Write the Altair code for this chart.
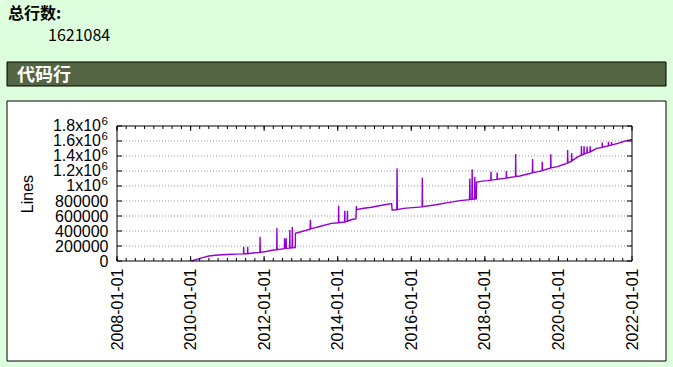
import altair as alt
import pandas as pd

# ---- data ----
dates = [
    "2010-01-10", "2010-03-01", "2010-05-01", "2010-07-01", "2010-10-01",
    "2011-01-01", "2011-04-01", "2011-06-10", "2011-06-12", "2011-06-14",
    "2011-07-20", "2011-07-22", "2011-07-24", "2011-10-01", "2011-11-20",
    "2011-11-22", "2011-11-24", "2012-02-01", "2012-04-01", "2012-05-05",
    "2012-05-07", "2012-05-09", "2012-07-20", "2012-07-22", "2012-07-24",
    "2012-08-05", "2012-08-07", "2012-08-09", "2012-09-10", "2012-09-12",
    "2012-09-14", "2012-10-05", "2012-10-07", "2012-10-09", "2012-11-05",
    "2012-11-07", "2013-01-01", "2013-04-01", "2013-04-05", "2013-04-08",
    "2013-08-01", "2013-11-01", "2014-01-08", "2014-01-10", "2014-01-12",
    "2014-03-10", "2014-03-12", "2014-03-14", "2014-04-05", "2014-04-07",
    "2014-04-09", "2014-05-15", "2014-07-01", "2014-07-05", "2014-07-08",
    "2014-09-01", "2014-12-01", "2015-03-01", "2015-06-20", "2015-06-25",
    "2015-08-10", "2015-08-13", "2015-08-16", "2015-10-15", "2016-01-15",
    "2016-04-18", "2016-04-20", "2016-04-22", "2016-09-01", "2017-01-01",
    "2017-05-01", "2017-08-01", "2017-08-05", "2017-08-08", "2017-08-25",
    "2017-08-28", "2017-08-31", "2017-09-20", "2017-09-23", "2017-09-26",
    "2017-10-08", "2017-10-10", "2017-12-01", "2018-02-01", "2018-03-01",
    "2018-03-03", "2018-03-05", "2018-05-01", "2018-05-03", "2018-05-05",
    "2018-08-01", "2018-08-03", "2018-08-05", "2018-11-01", "2018-11-03",
    "2018-11-05", "2018-12-15", "2019-02-01", "2019-04-18", "2019-04-20",
    "2019-04-22", "2019-06-15", "2019-07-23", "2019-07-25", "2019-07-27",
    "2019-10-16", "2019-10-18", "2019-10-20", "2019-12-20", "2020-03-01",
    "2020-03-31", "2020-04-02", "2020-04-04", "2020-05-10", "2020-05-12",
    "2020-05-14", "2020-07-15", "2020-08-15", "2020-08-17", "2020-08-19",
    "2020-09-10", "2020-09-12", "2020-09-14", "2020-10-10", "2020-10-12",
    "2020-10-14", "2020-11-10", "2020-11-12", "2020-11-14", "2021-01-15",
    "2021-03-10", "2021-03-12", "2021-03-14", "2021-05-10", "2021-05-12",
    "2021-05-14", "2021-06-10", "2021-06-12", "2021-06-14", "2021-08-15",
    "2021-10-01", "2022-01-01",
]
lines = [
    0, 22000, 45000, 66000, 80000,
    86000, 92000, 95000, 190000, 96000,
    97000, 190000, 98000, 110000, 114000,
    324000, 115000, 130000, 147000, 150000,
    440000, 151000, 165000, 302000, 166000,
    168000, 302000, 169000, 172000, 413000,
    173000, 175000, 453000, 176000, 178000,
    369000, 390000, 425000, 547000, 428000,
    470000, 502000, 510000, 737000, 512000,
    520000, 670000, 522000, 528000, 670000,
    530000, 550000, 565000, 733000, 685000,
    700000, 716000, 740000, 765000, 680000,
    683000, 1236000, 685000, 702000, 712000,
    722000, 1110000, 724000, 750000, 778000,
    805000, 818000, 1100000, 820000, 822000,
    1222000, 823000, 825000, 1124000, 826000,
    828000, 1050000, 1065000, 1072000, 1078000,
    1190000, 1079000, 1089000, 1180000, 1090000,
    1105000, 1200000, 1106000, 1125000, 1427000,
    1127000, 1133000, 1150000, 1175000, 1360000,
    1177000, 1191000, 1205000, 1324000, 1206000,
    1240000, 1422000, 1242000, 1258000, 1290000,
    1305000, 1480000, 1307000, 1330000, 1440000,
    1335000, 1391000, 1410000, 1533000, 1412000,
    1425000, 1530000, 1427000, 1440000, 1525000,
    1442000, 1455000, 1530000, 1457000, 1502000,
    1515000, 1580000, 1517000, 1535000, 1590000,
    1537000, 1545000, 1585000, 1547000, 1569000,
    1590000, 1621084,
]
y_ticks = [0, 200000, 400000, 600000, 800000, 1000000,
           1200000, 1400000, 1600000, 1800000]
pow_values = [1000000, 1200000, 1400000, 1600000, 1800000]
pow_mantissa = ["1x10", "1.2x10", "1.4x10", "1.6x10", "1.8x10"]
pow_exponent = ["6", "6", "6", "6", "6"]
major_years = [2008, 2010, 2012, 2014, 2016, 2018, 2020, 2022]
minor_dates = [f"{y}-{m:02d}-01" for y in range(2008, 2022) for m in (1, 4, 7, 10)]
major_dates = [f"{y}-01-01" for y in major_years]

total_label = "总行数:"
total_value = "1621084"
section_title = "代码行"
y_title = "Lines"

df = pd.DataFrame({"date": dates, "lines": lines})
pow_df = pd.DataFrame({"v": pow_values, "m": pow_mantissa, "e": pow_exponent})
W, H = 515, 135

xscale = alt.Scale(
    type="utc",
    domain=[alt.DateTime(year=2008, month=1, date=1, utc=True),
            alt.DateTime(year=2022, month=1, date=1, utc=True)],
)
yscale = alt.Scale(domain=[0, 1800000], nice=False)

one = pd.DataFrame({"k": [0]})

box = alt.Chart(one).mark_rect(fill="white", stroke="black", strokeWidth=1).encode(
    x=alt.value(-110), x2=alt.value(549), y=alt.value(-25), y2=alt.value(235))
bar = alt.Chart(one).mark_rect(fill="#556644", stroke="black", strokeWidth=1).encode(
    x=alt.value(-110), x2=alt.value(549), y=alt.value(-64), y2=alt.value(-40))
t1 = alt.Chart(one).mark_text(text=total_label, font="Noto Sans CJK SC", fontWeight="bold",
                              fontSize=16, align="left", baseline="alphabetic",
                              color="black").encode(x=alt.value(-109), y=alt.value(-107.5))
t2 = alt.Chart(one).mark_text(text=total_value, font="Noto Sans CJK SC", fontSize=16,
                              align="left", baseline="alphabetic",
                              color="black").encode(x=alt.value(-69), y=alt.value(-85.5))
t3 = alt.Chart(one).mark_text(text=section_title, font="Noto Sans CJK SC", fontWeight="bold",
                              fontSize=18, align="left", baseline="alphabetic",
                              color="white").encode(x=alt.value(-100), y=alt.value(-45))

grid = alt.Chart(pd.DataFrame({"v": y_ticks[1:-1]})).mark_rule(
    color="#9a9a9a", strokeDash=[1, 2], strokeWidth=1).encode(
    y=alt.Y("v:Q", scale=yscale, axis=None), x=alt.value(0), x2=alt.value(W))

line = alt.Chart(df).mark_line(color="#9400d3", strokeWidth=1.4).encode(
    x=alt.X("date:T", scale=xscale,
            axis=alt.Axis(values=[alt.DateTime(year=y, month=1, date=1, utc=True) for y in major_years],
                          format="%Y-%m-%d", labelAngle=270, labelFontSize=16,
                          labelFont="Liberation Sans", labelColor="black", labelPadding=7,
                          ticks=False, domain=False, grid=False, title=None, zindex=1,
                          labelOverlap=False, labelFlush=False)),
    y=alt.Y("lines:Q", scale=yscale,
            axis=alt.Axis(values=y_ticks,
                          labelExpr="datum.value >= 1000000 ? '' : format(datum.value, 'd')",
                          ticks=False, domain=False, grid=False, labelFontSize=16,
                          labelFont="Liberation Sans", labelColor="black", labelPadding=9,
                          labelOverlap=False, labelFlush=False,
                          title=y_title, titleFontSize=16, titleFontWeight="normal",
                          titleFont="Liberation Sans", titleColor="black",
                          titleX=-82, titleY=H / 2, titleAngle=270, zindex=1)),
)

# power-of-ten tick labels with a raised exponent, like gnuplot draws them
pow_main = alt.Chart(pow_df).mark_text(font="Liberation Sans", fontSize=16, align="right",
                                       baseline="middle", color="black").encode(
    y=alt.Y("v:Q", scale=yscale, axis=None), x=alt.value(-16), text="m:N")
pow_sup = alt.Chart(pow_df).mark_text(font="Liberation Sans", fontSize=11.5, align="left",
                                      baseline="middle", color="black", dy=-4).encode(
    y=alt.Y("v:Q", scale=yscale, axis=None), x=alt.value(-15.5), text="e:N")

minor_df = pd.DataFrame({"d": minor_dates})
major_df = pd.DataFrame({"d": major_dates})
xenc = alt.X("d:T", scale=xscale, axis=None)
minor_bot = alt.Chart(minor_df).mark_rule(color="black").encode(x=xenc, y=alt.value(H), y2=alt.value(H - 3))
minor_top = alt.Chart(minor_df).mark_rule(color="black").encode(x=xenc, y=alt.value(0), y2=alt.value(3))
major_bot = alt.Chart(major_df).mark_rule(color="black").encode(x=xenc, y=alt.value(H), y2=alt.value(H - 5))
major_top = alt.Chart(major_df).mark_rule(color="black").encode(x=xenc, y=alt.value(0), y2=alt.value(5))
yt_df = pd.DataFrame({"v": y_ticks})
yenc = alt.Y("v:Q", scale=yscale, axis=None)
ytick_l = alt.Chart(yt_df).mark_rule(color="black").encode(y=yenc, x=alt.value(0), x2=alt.value(5))
ytick_r = alt.Chart(yt_df).mark_rule(color="black").encode(y=yenc, x=alt.value(W - 5), x2=alt.value(W))

border = alt.Chart(one).mark_rect(fillOpacity=0, fill="white", stroke="black", strokeWidth=1).encode(
    x=alt.value(0), x2=alt.value(W), y=alt.value(0), y2=alt.value(H))

chart = alt.layer(
    box, bar, t1, t2, t3, grid, line, pow_main, pow_sup,
    minor_bot, minor_top, major_bot, major_top, ytick_l, ytick_r, border,
).resolve_axis(
    x="independent", y="independent"
).properties(
    width=W, height=H,
    padding={"left": 117, "top": 126, "right": 41, "bottom": 106},
    autosize=alt.AutoSizeParams(type="none"),
).configure(background="#ddffdd").configure_view(stroke=None)

chart.save("out.html", embed_options={"renderer": "svg", "actions": False})
